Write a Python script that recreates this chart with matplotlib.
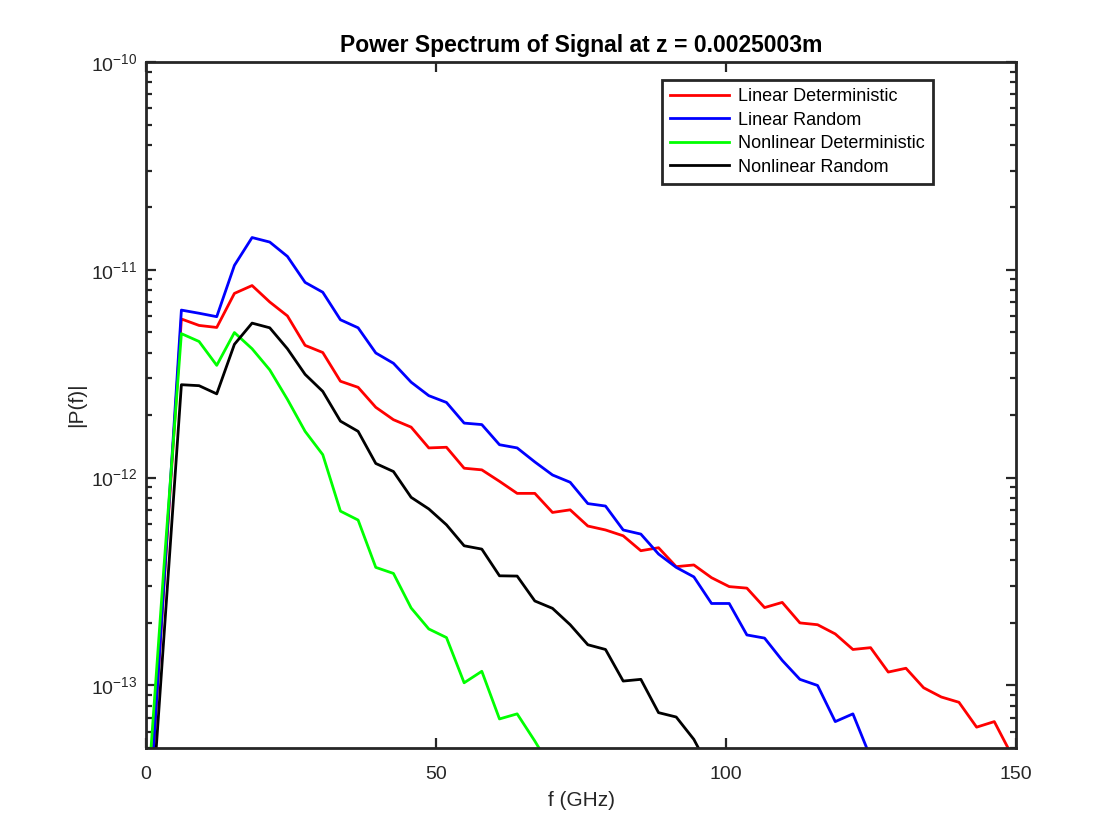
import numpy as np
import matplotlib
matplotlib.use('Agg')
import matplotlib.pyplot as plt
from matplotlib.ticker import NullFormatter, FixedLocator, LogFormatterSciNotation

plt.rcParams['font.family'] = ['Liberation Sans', 'DejaVu Sans']
plt.rcParams['mathtext.default'] = 'regular'

# --- данные ---
DF = 3.046  # шаг по частоте, ГГц
lin_det = [1.38e-14, 2.9e-13, 5.8e-12, 5.4e-12, 5.28e-12, 7.7e-12, 8.4e-12, 7.0e-12, 6.0e-12, 4.33e-12,
           4.0e-12, 2.91e-12, 2.72e-12, 2.18e-12, 1.9e-12, 1.75e-12, 1.39e-12, 1.4e-12, 1.11e-12, 1.09e-12,
           9.6e-13, 8.4e-13, 8.4e-13, 6.8e-13, 7.0e-13, 5.85e-13, 5.6e-13, 5.25e-13, 4.45e-13, 4.6e-13,
           3.73e-13, 3.8e-13, 3.3e-13, 2.99e-13, 2.94e-13, 2.37e-13, 2.51e-13, 2.0e-13, 1.96e-13, 1.77e-13,
           1.49e-13, 1.52e-13, 1.16e-13, 1.21e-13, 9.75e-14, 8.8e-14, 8.3e-14, 6.3e-14, 6.7e-14, 4.6e-14]
lin_rnd = [1.35e-14, 3.0e-13, 6.4e-12, 6.18e-12, 5.95e-12, 1.05e-11, 1.43e-11, 1.36e-11, 1.16e-11, 8.7e-12,
           7.8e-12, 5.75e-12, 5.26e-12, 3.98e-12, 3.55e-12, 2.88e-12, 2.48e-12, 2.3e-12, 1.83e-12, 1.80e-12,
           1.44e-12, 1.39e-12, 1.19e-12, 1.03e-12, 9.5e-13, 7.5e-13, 7.3e-13, 5.6e-13, 5.35e-13, 4.29e-13,
           3.7e-13, 3.33e-13, 2.48e-13, 2.48e-13, 1.75e-13, 1.69e-13, 1.32e-13, 1.07e-13, 1.0e-13, 6.7e-14,
           7.3e-14, 4.5e-14]
nl_det = [2.3e-14, 3.6e-13, 4.93e-12, 4.52e-12, 3.47e-12, 4.99e-12, 4.17e-12, 3.3e-12, 2.38e-12, 1.67e-12,
          1.29e-12, 6.9e-13, 6.25e-13, 3.7e-13, 3.46e-13, 2.36e-13, 1.87e-13, 1.7e-13, 1.03e-13, 1.17e-13,
          6.9e-14, 7.3e-14, 5.4e-14, 3.9e-14]
nl_rnd = [9.8e-15, 1.66e-13, 2.8e-12, 2.77e-12, 2.53e-12, 4.38e-12, 5.54e-12, 5.26e-12, 4.17e-12, 3.14e-12,
          2.6e-12, 1.87e-12, 1.67e-12, 1.17e-12, 1.07e-12, 8.04e-13, 7.07e-13, 5.93e-13, 4.7e-13, 4.53e-13,
          3.37e-13, 3.36e-13, 2.55e-13, 2.35e-13, 1.96e-13, 1.57e-13, 1.49e-13, 1.05e-13, 1.07e-13, 7.4e-14,
          7.05e-14, 5.5e-14, 3.8e-14]
labels = ['Linear Deterministic', 'Linear Random', 'Nonlinear Deterministic', 'Nonlinear Random']
colors = ['#FF0000', '#0000FF', '#00FF00', '#000000']

fig = plt.figure(figsize=(11.2, 8.4), dpi=100)
ax = fig.add_axes([0.1304, 0.1095, 0.777, 0.8167])

for vals, lab, col in zip([lin_det, lin_rnd, nl_det, nl_rnd], labels, colors):
    f = np.arange(len(vals)) * DF
    ax.semilogy(f, vals, color=col, lw=2.0, label=lab)

ax.set_xlim(0, 150)
ax.set_ylim(5e-14, 1e-10)
ax.xaxis.set_major_locator(FixedLocator([0, 50, 100, 150]))
majors = [1e-13, 1e-12, 1e-11, 1e-10]
minors = [m * 10.0**e for e in range(-14, -10) for m in range(2, 10)]
minors = [v for v in minors if 5e-14 <= v <= 1e-10]
ax.yaxis.set_major_locator(FixedLocator(majors))
ax.yaxis.set_major_formatter(LogFormatterSciNotation())
ax.yaxis.set_minor_locator(FixedLocator(minors))
ax.yaxis.set_minor_formatter(NullFormatter())

dark = '#262626'
for s in ax.spines.values():
    s.set_linewidth(2.0)
    s.set_color(dark)
ax.tick_params(which='both', direction='in', top=True, right=True, colors=dark, labelsize=14)
ax.tick_params(which='major', length=7, width=1.6)
ax.tick_params(which='minor', length=4, width=1.6)
ax.tick_params(axis='x', pad=13)
ax.tick_params(axis='y', pad=6)

ax.set_xlabel('f (GHz)', fontsize=15, color=dark, labelpad=6)
ax.set_ylabel('|P(f)|', fontsize=15, color=dark)
ax.set_title('Power Spectrum of Signal at z = 0.0025003m', fontsize=16.5, fontweight='bold', pad=7)

leg = ax.legend(loc='upper right', bbox_to_anchor=(0.9046, 0.9738), borderaxespad=0,
                fontsize=13, fancybox=False, framealpha=1, handlelength=3.3,
                labelspacing=0.36, borderpad=0.45, handletextpad=0.5)
leg.get_frame().set_edgecolor(dark)
leg.get_frame().set_linewidth(2.0)

fig.savefig('out.png', dpi=100)
